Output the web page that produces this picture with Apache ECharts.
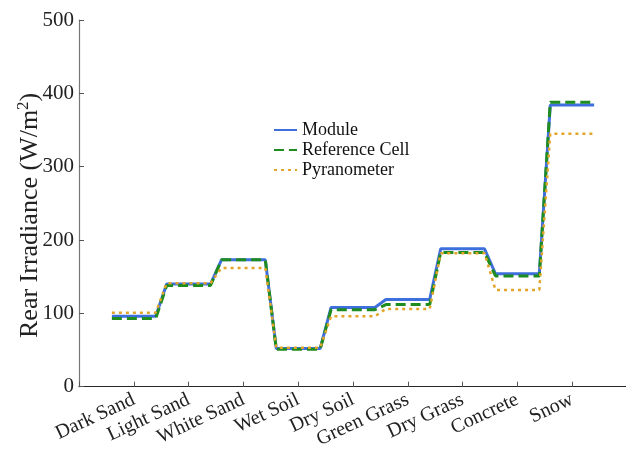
<!DOCTYPE html>
<html>
<head>
<meta charset="utf-8">
<script src="https://cdn.jsdelivr.net/npm/echarts@6/dist/echarts.min.js"></script>
<style>html,body{margin:0;padding:0;background:#fff;}#c{width:626px;height:450px;}</style>
</head>
<body>
<div id="c"></div>
<script>
const categories = ['Dark Sand','Light Sand','White Sand','Wet Soil','Dry Soil','Green Grass','Dry Grass','Concrete','Snow'];
const moduleVals = [96, 140, 173, 52, 108, 119, 188, 154, 384];
const refCellVals = [93, 138, 173, 51, 105, 112, 183, 151, 388];
const pyranometerVals = [101, 141, 162, 53, 96, 106, 182, 132, 345];
const yTicks = [0, 100, 200, 300, 400, 500];
const halfWidth = 0.4;

function steps(vals) {
  const out = [];
  vals.forEach((v, i) => {
    out.push([i + 1 - halfWidth, v]);
    out.push([i + 1 + halfWidth, v]);
  });
  return out;
}

const font = '"Liberation Serif","Times New Roman",serif';
const chart = echarts.init(document.getElementById('c'), null, {renderer: 'canvas'});
chart.setOption({
  animation: false,
  backgroundColor: '#fff',
  grid: {left: 79, top: 20, width: 548, height: 366.7, containLabel: false, outerBoundsMode: 'none'},
  legend: {
    orient: 'vertical', left: 268, top: 116, itemWidth: 23, itemHeight: 10, itemGap: 2,
    itemStyle: {opacity: 0},
    textStyle: {fontFamily: font, fontSize: 18, color: '#111'},
    data: ['Module', 'Reference Cell', 'Pyranometer']
  },
  xAxis: {
    type: 'value', min: 0, max: 10, interval: 1,
    splitLine: {show: false},
    axisLine: {lineStyle: {color: '#262626', width: 1.2}},
    axisTick: {inside: true, length: 5, lineStyle: {color: '#555'}},
    axisLabel: {
      rotate: 25, fontFamily: font, fontSize: 20, color: '#222', margin: 12,
      showMinLabel: true, showMaxLabel: true,
      formatter: v => (v >= 1 && v <= categories.length && Number.isInteger(v)) ? categories[v - 1] : ''
    }
  },
  yAxis: {
    type: 'value', min: yTicks[0], max: yTicks[yTicks.length - 1], interval: 100,
    splitLine: {show: false},
    axisLine: {show: true, lineStyle: {color: '#777', width: 1.2}},
    axisTick: {show: true, inside: true, length: 5, lineStyle: {color: '#555'}},
    axisLabel: {fontFamily: font, fontSize: 21, color: '#222', margin: 5},
    name: 'Rear Irradiance (W/m{sup|2})', nameLocation: 'middle', nameGap: 34, nameMoveOverlap: false,
    nameTextStyle: {fontFamily: font, fontSize: 26, color: '#222', padding: [0, 24, 0, 0],
      rich: {sup: {fontFamily: font, fontSize: 17, color: '#222', verticalAlign: 'top', padding: [0, 0, 13, 0]}}}
  },
  series: [
    {name: 'Module', type: 'line', symbol: 'none', data: steps(moduleVals),
     lineStyle: {color: '#3F6FDC', width: 3, type: 'solid'}, itemStyle: {color: '#3F6FDC'}},
    {name: 'Reference Cell', type: 'line', symbol: 'none', data: steps(refCellVals),
     lineStyle: {color: '#1E8C1E', width: 3, type: [10, 5]}, itemStyle: {color: '#1E8C1E'}},
    {name: 'Pyranometer', type: 'line', symbol: 'none', data: steps(pyranometerVals),
     lineStyle: {color: '#E2A52A', width: 2.5, type: [3, 4]}, itemStyle: {color: '#E2A52A'}}
  ]
});
</script>
</body>
</html>
